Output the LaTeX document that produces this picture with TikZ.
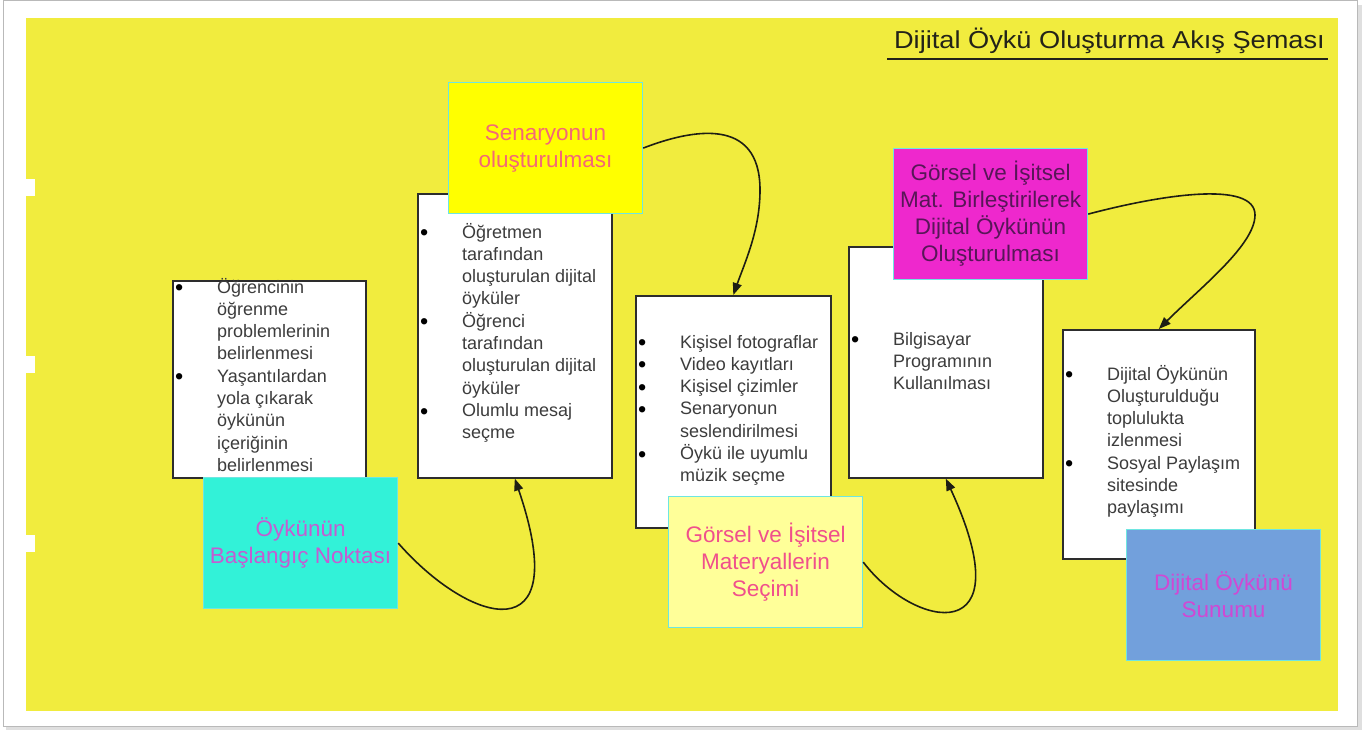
\documentclass[tikz,border=0pt]{standalone}
\usepackage{fontspec}
\setmainfont{Liberation Sans}
\usetikzlibrary{calc,arrows.meta}

\definecolor{bgyellow}{RGB}{241,236,62}
\definecolor{boxline}{RGB}{45,45,45}
\definecolor{listtext}{RGB}{60,60,60}
\definecolor{titlecol}{RGB}{35,35,25}
\definecolor{turq}{RGB}{50,242,216}
\definecolor{turqtext}{RGB}{196,92,210}
\definecolor{scenfill}{RGB}{255,255,0}
\definecolor{scentext}{RGB}{244,104,118}
\definecolor{palefill}{RGB}{255,255,153}
\definecolor{paletext}{RGB}{240,80,140}
\definecolor{magfill}{RGB}{238,40,205}
\definecolor{magtext}{RGB}{88,22,88}
\definecolor{bluefill}{RGB}{114,160,220}
\definecolor{bluetext}{RGB}{208,72,212}
\definecolor{edgecyan}{RGB}{110,230,225}
\definecolor{arrowcol}{RGB}{30,30,20}

% bullet column and empty indent for the item lists
\newcommand\bul{\makebox[42pt][l]{\color{black}\raisebox{-2.6pt}{\scalebox{1.3}{\textbullet}}}}
\newcommand\nob{\hspace*{42pt}}

\begin{document}
\begin{tikzpicture}[x=1pt,y=-1pt,
  listbox/.style={draw=boxline, line width=1.6pt, fill=white, anchor=north west, inner sep=0pt},
  stage/.style={draw=edgecyan, line width=1.2pt, anchor=north west, minimum width=194pt,
    minimum height=131pt, inner sep=0pt, align=center, font=\fontsize{22.5}{27}\selectfont},
  items/.style={anchor=base west, inner sep=0pt, text=listtext, font=\fontsize{18}{22.3}\selectfont},
  flow/.style={draw=arrowcol, line width=1.6pt, -{Triangle[length=12pt,width=9pt]}},
]
\useasboundingbox (0,0) rectangle (1365,730);

% page frame with a soft shadow
\fill[gray!25] (6,5) rectangle (1362,730);
\fill[white] (3,1) rectangle (1357,726);
\draw[gray!55, line width=1pt] (3,1) rectangle (1357,726);
\fill[bgyellow] (26,18) rectangle (1338,711);

% small white marks on the left edge
\fill[white] (26,179) rectangle (35,196);
\fill[white] (26,356) rectangle (35,373);
\fill[white] (26,535) rectangle (35,552);

% title
\node[anchor=base east, inner sep=0pt, text=titlecol, font=\fontsize{24.5}{28}\selectfont]
  (title) at (1325,49) {\scalebox{1.11}[1]{Dijital Öykü Oluşturma Akış Şeması}};
\draw[titlecol, line width=2.5pt] (887,59) -- (1328,59);

% list boxes
\node[listbox, minimum width=193pt, minimum height=197pt] (b1) at (172,280) {};
\node[listbox, minimum width=194pt, minimum height=284pt] (b2) at (417,193) {};
\node[listbox, minimum width=195pt, minimum height=232pt] (b3) at (635,295) {};
\node[listbox, minimum width=194pt, minimum height=231pt] (b4) at (848,246) {};
\node[listbox, minimum width=192pt, minimum height=229pt] (b5) at (1062,329) {};

\node[items] (t1) at ($(b1.north west)+(3,13)$) {\begin{tabular}[t]{@{}l@{}}
\bul Öğrencinin\\ \nob öğrenme\\ \nob problemlerinin\\ \nob belirlenmesi\\
\bul Yaşantılardan\\ \nob yola çıkarak\\ \nob öykünün\\ \nob içeriğinin\\ \nob belirlenmesi
\end{tabular}};
\node[items] (t2) at ($(b2.north west)+(3,45)$) {\begin{tabular}[t]{@{}l@{}}
\bul Öğretmen\\ \nob tarafından\\ \nob oluşturulan dijital\\ \nob öyküler\\
\bul Öğrenci\\ \nob tarafından\\ \nob oluşturulan dijital\\ \nob öyküler\\
\bul Olumlu mesaj\\ \nob seçme
\end{tabular}};
\node[items] (t3) at ($(b3.north west)+(3,53)$) {\begin{tabular}[t]{@{}l@{}}
\bul Kişisel fotograflar\\ \bul Video kayıtları\\ \bul Kişisel çizimler\\
\bul Senaryonun\\ \nob seslendirilmesi\\ \bul Öykü ile uyumlu\\ \nob müzik seçme
\end{tabular}};
\node[items] (t4) at ($(b4.north west)+(3,99)$) {\begin{tabular}[t]{@{}l@{}}
\bul Bilgisayar\\ \nob Programının\\ \nob Kullanılması
\end{tabular}};
\node[items] (t5) at ($(b5.north west)+(3,51)$) {\begin{tabular}[t]{@{}l@{}}
\bul Dijital Öykünün\\ \nob Oluşturulduğu\\ \nob toplulukta\\ \nob izlenmesi\\
\bul Sosyal Paylaşım\\ \nob sitesinde\\ \nob paylaşımı
\end{tabular}};

% stage boxes
\node[stage, fill=turq, text=turqtext] (s1) at (203,477) {Öykünün\\Başlangıç Noktası};
\node[stage, fill=scenfill, text=scentext] (s2) at (448,82) {Senaryonun\\oluşturulması};
\node[stage, fill=palefill, text=paletext] (s3) at (668,496) {Görsel ve İşitsel\\Materyallerin\\Seçimi};
\node[stage, fill=magfill, text=magtext] (s4) at (893,148) {Görsel ve İşitsel\\Mat. Birleştirilerek\\Dijital Öykünün\\Oluşturulması};
\node[stage, fill=bluefill, text=bluetext] (s5) at (1126,529) {Dijital Öykünü\\Sunumu};

% curved flow arrows
\draw[flow] (s1.east) .. controls (470,625) and (575,655) .. (b2.south);
\draw[flow] (s2.east) .. controls (690,130) and (760,115) .. (760,190)
  .. controls (760,230) and (745,262) .. (b3.north);
\draw[flow] (s3.east) .. controls (915,630) and (1025,650) .. (b4.south);
\draw[flow] (s4.east) .. controls (1160,195) and (1255,180) .. (1255,215)
  .. controls (1255,245) and (1200,288) .. (b5.north);
\end{tikzpicture}
\end{document}
